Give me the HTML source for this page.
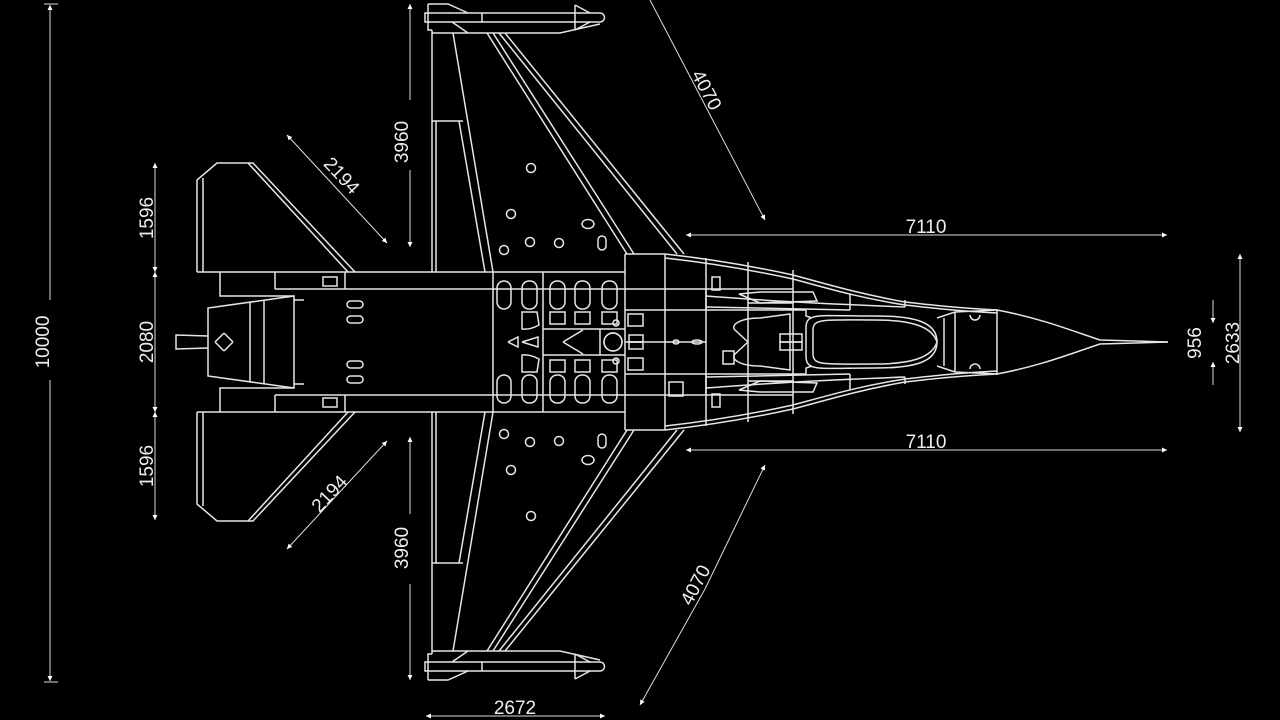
<!DOCTYPE html>
<html><head><meta charset="utf-8"><style>
html,body{margin:0;padding:0;background:#000;width:1280px;height:720px;overflow:hidden}
svg{display:block}
text{font-family:"Liberation Sans",sans-serif;font-size:19px;fill:#eee}
</style></head><body>
<svg width="1280" height="720" viewBox="0 0 1280 720" xmlns="http://www.w3.org/2000/svg">
<defs>
<marker id="a" viewBox="0 0 10 10" refX="10" refY="5" markerWidth="12" markerHeight="5" markerUnits="userSpaceOnUse" orient="auto"><path d="M0,0 L10,5 L0,10 Z" fill="#fff"/></marker>
<g id="half" fill="none" stroke="#e6e6e6" stroke-width="1.5">
 <path d="M197,272 V180 L217,163 H253 L355,272"/>
 <path d="M203,272 V178"/>
 <path d="M248,163 L348,272"/>
 <path d="M197,272 H625"/>
 <path d="M220,272 V296 H294"/>
 <path d="M275,289 H493"/>
 <path d="M275,272 V289"/>
 <path d="M345,272 V289"/>
 <rect x="323" y="277" width="14" height="9"/>
 <path d="M208,342 V308 L294,296 V342"/>
 <path d="M250,302 V342 M264,300 V342 M294,300 H304"/>
 <path d="M208,336 L176,335 V342"/>
 <path d="M224,333 L233,342"/>
 <path d="M224,333 L215,342"/>
 <rect x="347" y="301" width="16" height="7" rx="3.5"/>
 <rect x="347" y="316" width="16" height="7" rx="3.5"/>
 <path d="M432,272 V30 M436,272 V121"/>
 <path d="M432,121 H463"/>
 <path d="M453,33 L493,272"/>
 <path d="M459,121 L485,272"/>
 <path d="M487,33 L627,254 M493,33 L634,254 M499,33 L677,254 M505,33 L684,254"/>
 <path d="M432,33 H560 L600,24"/>
 <path d="M425,13 H600 A4.5,4.5 0 0 1 600,22 H425 Z"/>
 <path d="M428,4 H448 L468,13 M452,22 L468,33 M575,5 L590,13 M575,30 L590,22 M575,5 V30"/>
 <path d="M428,4 V30 H432"/>
 <path d="M482,13 V22"/>
 <circle cx="531" cy="168" r="4.5"/><circle cx="511" cy="214" r="4.5"/>
 <circle cx="530" cy="242" r="4.5"/><circle cx="559" cy="243" r="4.5"/>
 <circle cx="504" cy="250" r="4.5"/>
 <ellipse cx="588" cy="224" rx="6" ry="4.5"/><rect x="598" y="236" width="8" height="14" rx="4"/>
 <path d="M493,272 V342 M543,272 V342 M625,254 V342 M665,254 V342 M706,258 V342 M748,262 V342 M793,270 V342"/>
 <path d="M625,254 H665 M493,289 H748 M543,329 H625 M625,310 H793 M748,303 H793"/>
 <path d="M748,289 H793 M706,289 V310"/>
 <rect x="497" y="281" width="14" height="28" rx="7"/>
 <rect x="522" y="281" width="15" height="28" rx="7"/>
 <rect x="550" y="281" width="15" height="28" rx="7"/>
 <rect x="575" y="281" width="15" height="28" rx="7"/>
 <rect x="602" y="281" width="15" height="28" rx="7"/>
 <path d="M522,312 H537 L539,325 Q530,330 522,329 Z"/>
 <rect x="550" y="312" width="15" height="12"/><rect x="575" y="312" width="15" height="12"/><rect x="602" y="312" width="15" height="12"/>
 <rect x="628" y="314" width="15" height="12"/>
 <path d="M583,330 L563,342 M600,329 V342"/>
 <circle cx="613" cy="342" r="9"/>
 <rect x="629" y="335" width="14" height="7"/>
 <path d="M508,342 L518,337 V342 M522,342 L538,337 V342"/>
 <circle cx="616" cy="323" r="3"/>
 <path d="M665,254 C720,260 770,270 793,275 C830,285 860,294 905,302 C940,306 960,308 997,310 C1040,318 1070,330 1100,340 L1168,342"/>
 <path d="M665,258 C720,264 770,274 793,279 C830,289 860,298 905,305 C940,309 960,311 997,313"/>
 <path d="M706,296 C760,300 800,303 905,307 M706,307 C760,308 800,309 850,310"/>
 <path d="M739,294 L760,292 H813 L817,301 L760,303 Z"/>
 <rect x="712" y="277" width="8" height="13"/>
 <path d="M748,342 L735,330 C730,325 740,318 760,318 L790,314 V342"/>
 <path d="M793,310 H806 V316 L812,318"/>
 <path d="M806,342 V328 C806,312 818,316 875,316 C915,316 937,322 937,342"/>
 <path d="M813,342 V330 C813,318 825,320 875,320 C910,320 932,326 937,342"/>
 <path d="M937,318 L955,312 L997,310 V342 M955,312 V342 M944,318 V342"/>
 <path d="M905,300 V307 M850,294 V310"/>
 <path d="M970,315 A5,5 0 0 0 980,315"/>
 <rect x="780" y="334" width="22" height="8"/>
</g>
</defs>
<use href="#half"/>
<use href="#half" transform="translate(0,684) scale(1,-1)"/>
<g fill="none" stroke="#e6e6e6" stroke-width="1.5">
 <rect x="723" y="351" width="11" height="13"/>
 <rect x="669" y="382" width="14" height="14"/>
 <ellipse cx="676" cy="342" rx="3" ry="2"/><ellipse cx="697" cy="342" rx="5" ry="2"/>
 <path d="M625,342 H706"/>
</g>
<g stroke="#ddd" stroke-width="1" fill="none">
 <path d="M44,4 H58 M44,682 H58" />
 <line x1="50" y1="300" x2="50" y2="5" marker-end="url(#a)"/>
 <line x1="50" y1="380" x2="50" y2="681" marker-end="url(#a)"/>
 <line x1="155" y1="163" x2="155" y2="520"/>
 <line x1="155" y1="240" x2="155" y2="272" marker-end="url(#a)"/>
 <line x1="155" y1="300" x2="155" y2="272" marker-end="url(#a)"/>
 <line x1="155" y1="380" x2="155" y2="412" marker-end="url(#a)"/>
 <line x1="155" y1="440" x2="155" y2="412" marker-end="url(#a)"/>
 <line x1="155" y1="190" x2="155" y2="163" marker-end="url(#a)"/>
 <line x1="155" y1="495" x2="155" y2="520" marker-end="url(#a)"/>
 <line x1="410" y1="100" x2="410" y2="4" marker-end="url(#a)"/>
 <line x1="410" y1="170" x2="410" y2="247" marker-end="url(#a)"/>
 <line x1="410" y1="584" x2="410" y2="680" marker-end="url(#a)"/>
 <line x1="410" y1="514" x2="410" y2="437" marker-end="url(#a)"/>
 <line x1="337" y1="189" x2="287" y2="135" marker-end="url(#a)"/>
 <line x1="337" y1="189" x2="387" y2="243" marker-end="url(#a)"/>
 <line x1="337" y1="495" x2="287" y2="549" marker-end="url(#a)"/>
 <line x1="337" y1="495" x2="387" y2="441" marker-end="url(#a)"/>
 <line x1="650" y1="0" x2="765" y2="220" marker-end="url(#a)"/>
 <line x1="705" y1="589" x2="640" y2="705" marker-end="url(#a)"/>
 <line x1="705" y1="589" x2="765" y2="465" marker-end="url(#a)"/>
 <line x1="926" y1="235" x2="686" y2="235" marker-end="url(#a)"/>
 <line x1="926" y1="235" x2="1167" y2="235" marker-end="url(#a)"/>
 <line x1="926" y1="450" x2="686" y2="450" marker-end="url(#a)"/>
 <line x1="926" y1="450" x2="1167" y2="450" marker-end="url(#a)"/>
 <line x1="1213" y1="300" x2="1213" y2="323" marker-end="url(#a)"/>
 <line x1="1213" y1="385" x2="1213" y2="362" marker-end="url(#a)"/>
 <line x1="1240" y1="342" x2="1240" y2="254" marker-end="url(#a)"/>
 <line x1="1240" y1="342" x2="1240" y2="432" marker-end="url(#a)"/>
 <line x1="515" y1="716" x2="426" y2="716" marker-end="url(#a)"/>
 <line x1="515" y1="716" x2="605" y2="716" marker-end="url(#a)"/>
</g>
<g>
 <text transform="translate(49,342) rotate(-90)" text-anchor="middle">10000</text>
 <text transform="translate(153,218) rotate(-90)" text-anchor="middle">1596</text>
 <text transform="translate(153,342) rotate(-90)" text-anchor="middle">2080</text>
 <text transform="translate(153,466) rotate(-90)" text-anchor="middle">1596</text>
 <text transform="translate(408,142) rotate(-90)" text-anchor="middle">3960</text>
 <text transform="translate(408,548) rotate(-90)" text-anchor="middle">3960</text>
 <text transform="translate(337,180) rotate(47)" text-anchor="middle">2194</text>
 <text transform="translate(334,498) rotate(-47)" text-anchor="middle">2194</text>
 <text transform="translate(701,93) rotate(62)" text-anchor="middle">4070</text>
 <text transform="translate(701,588) rotate(-62)" text-anchor="middle">4070</text>
 <text x="926" y="233" text-anchor="middle">7110</text>
 <text x="926" y="448" text-anchor="middle">7110</text>
 <text transform="translate(1201,343) rotate(-90)" text-anchor="middle">956</text>
 <text transform="translate(1239,343) rotate(-90)" text-anchor="middle">2633</text>
 <text x="515" y="714" text-anchor="middle">2672</text>
</g>
</svg>
</body></html>
